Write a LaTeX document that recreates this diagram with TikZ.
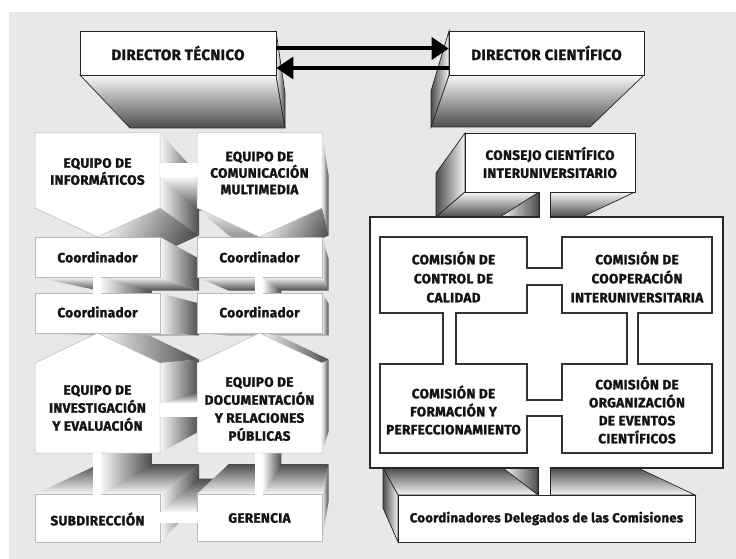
\documentclass[tikz,border=0pt]{standalone}
\usepackage{fontspec}
\setmainfont{Fira Sans}[BoldFeatures={FakeBold=1.6,LetterSpace=2.5}]
\usetikzlibrary{calc,arrows.meta}
\definecolor{bgc}{gray}{0.91}
\definecolor{frc}{gray}{0.97}
\definecolor{bkc}{gray}{0.30}
\definecolor{ink}{gray}{0.08}
\newcommand\xface[3]{\shade[#3] (#1) -- (#2) -- ($(#2)!0.2!(VP)$) -- ($(#1)!0.2!(VP)$) -- cycle;}
\newcommand\tfont{\bfseries\fontsize{13.5}{18}\selectfont}
\newcommand\dfont{\bfseries\fontsize{15}{18}\selectfont}
\begin{document}
\begin{tikzpicture}[x=1pt,y=-1pt,
  rface/.style={left color=frc,right color=bkc},
  lface/.style={left color=bkc,right color=frc},
  bface/.style={top color=frc,bottom color=bkc},
  tface/.style={top color=bkc,bottom color=frc},
  dface/.style={top color=frc,bottom color=bkc,shading angle=60},
  edge3d/.style={draw=black!85,line width=0.7pt},
  front/.style={fill=white,draw=gray!55,line width=0.5pt},
  txt/.style={font=\tfont,text=ink,align=center,inner sep=0pt},
  dbox/.style={draw=black!85,fill=white,line width=0.7pt,font=\dfont,text=ink,align=center,inner sep=0pt},
  cbox/.style={draw=black!85,fill=white,line width=0.7pt,font=\tfont,text=ink,align=center,inner sep=0pt},
  arr/.style={-{Triangle[length=17pt,width=22pt]}}]
\useasboundingbox (0,0) rectangle (736,559);
\fill[white] (0,0) rectangle (736,559);
\fill[bgc] (9,12) rectangle (736,559);
\coordinate (VP) at (355,345);

% ---------- left section: side faces ----------
\xface{160,133}{160,208}{rface}
\xface{160,208}{97.5,237}{dface}
\xface{322,133}{322,208}{rface}
\xface{322,208}{259.5,237}{dface}
\xface{197,208}{259.5,237}{bface}
\xface{160,177}{197,177}{bface}
% coordinador row 1
\xface{35,277}{160,277}{bface}
\xface{160,237}{160,277}{rface}
\xface{197,277}{322,277}{bface}
\xface{322,237}{322,277}{rface}
\xface{101,277}{101,293}{rface}
\xface{263,277}{263,293}{rface}
% coordinador row 2
\xface{35,333}{160,333}{bface}
\xface{160,293}{160,333}{rface}
\xface{197,333}{322,333}{bface}
\xface{322,293}{322,333}{rface}
% houses
\xface{97.5,333}{160,363}{rface}
\xface{160,363}{160,453}{rface}
\xface{160,403}{197,403}{tface}
\xface{259.5,333}{322,363}{rface}
\xface{322,363}{322,453}{rface}
% bottom row
\xface{35,494}{160,494}{tface}
\xface{160,494}{160,542}{rface}
\xface{160,512}{197,512}{tface}
\xface{197,494}{322,494}{tface}
\xface{322,494}{322,541}{rface}
\xface{101,453}{101,494}{rface}
\xface{263,453}{263,494}{rface}

% ---------- left section: front faces ----------
\path[front] (35,133) -- (160,133) -- (160,208) -- (97.5,237) -- (35,208) -- cycle;
\path[front] (197,133) -- (322,133) -- (322,208) -- (259.5,237) -- (197,208) -- cycle;
\path[front] (35,237) rectangle (160,277);
\path[front] (197,237) rectangle (322,277);
\path[front] (35,293) rectangle (160,333);
\path[front] (197,293) rectangle (322,333);
\path[front] (35,363) -- (97.5,333) -- (160,363) -- (160,453) -- (35,453) -- cycle;
\path[front] (197,363) -- (259.5,333) -- (322,363) -- (322,453) -- (197,453) -- cycle;
\path[front] (35,494) rectangle (160,542);
\path[front] (197,494) rectangle (322,541);
% white connectors
\fill[white] (159.5,163) rectangle (197.5,177);
\fill[white] (93,276.5) rectangle (101,293.5);
\fill[white] (255,276.5) rectangle (263,293.5);
\fill[white] (159.5,403) rectangle (197.5,417);
\fill[white] (93,452.5) rectangle (101,494.5);
\fill[white] (255,452.5) rectangle (263,494.5);
\fill[white] (159.5,512) rectangle (197.5,523);

% ---------- left section: texts ----------
\node[txt,font=\bfseries\fontsize{13.5}{17}\selectfont] (EI) at (97.5,171.5) {EQUIPO DE\\INFORMÁTICOS};
\node[txt,font=\bfseries\fontsize{13.5}{16.5}\selectfont] (ECM) at (259.5,173) {EQUIPO DE\\COMUNICACIÓN\\MULTIMEDIA};
\node[txt] (C1) at (97.5,257) {Coordinador};
\node[txt] (C2) at (259.5,257) {Coordinador};
\node[txt] (C3) at (97.5,312) {Coordinador};
\node[txt] (C4) at (259.5,312) {Coordinador};
\node[txt] (EIE) at (97.5,408) {EQUIPO DE\\INVESTIGACIÓN\\Y EVALUACIÓN};
\node[txt] (EDR) at (259.5,409) {EQUIPO DE\\DOCUMENTACIÓN\\Y RELACIONES\\PÚBLICAS};
\node[txt] (SUB) at (97.5,519) {SUBDIRECCIÓN};
\node[txt] (GER) at (259.5,518) {GERENCIA};

% ---------- directors ----------
\shadedraw[bface,edge3d] (80,75) -- (276,75) -- (285,128) -- (130,128) -- cycle;
\shadedraw[rface,edge3d] (276,31) -- (285,93) -- (285,128) -- (276,75) -- cycle;
\node[dbox,minimum width=196pt,minimum height=44pt] (DT) at (178,53) {DIRECTOR TÉCNICO};
\shadedraw[bface,edge3d] (449,75) -- (644,75) -- (590,127) -- (431,127) -- cycle;
\shadedraw[lface,edge3d] (449,31) -- (449,75) -- (431,127) -- (431,91) -- cycle;
\node[dbox,minimum width=195pt,minimum height=44pt] (DC) at (546.5,53) {DIRECTOR CIENTÍFICO};
\draw[arr,line width=4pt] ([yshift=4.5pt]DT.east) -- ([yshift=4.5pt]DC.west);
\draw[arr,line width=3.5pt] ([yshift=-15pt]DC.west) -- ([yshift=-15pt]DT.east);

% ---------- consejo ----------
\shadedraw[lface,edge3d] (465,133) -- (465,192) -- (436,217) -- (436,173) -- cycle;
\shadedraw[bface,edge3d] (465,192) -- (635,192) -- (582,217) -- (436,217) -- cycle;
\shadedraw[rface,edge3d] (539,192) -- (539,217) -- (500,217) -- cycle;
\node[cbox,minimum width=170pt,minimum height=59pt] (CCI) at (550,162.5) {CONSEJO CIENTÍFICO\\INTERUNIVERSITARIO};

% ---------- coordinadores delegados ----------
\shadedraw[tface,edge3d] (383,468) -- (638,468) -- (695,495) -- (398,495) -- cycle;
\shadedraw[lface,edge3d] (383,468) -- (398,495) -- (398,542) -- (383,508) -- cycle;
\shadedraw[rface,edge3d] (503,468) -- (538,468) -- (538,495) -- cycle;
\node[cbox,minimum width=297pt,minimum height=47pt,font=\bfseries\fontsize{13}{16}\selectfont] (CDC) at (546.5,518.5) {Coordinadores Delegados de las Comisiones};

% ---------- big box ----------
\node[draw=black!85,fill=white,line width=1.1pt,minimum width=353pt,minimum height=251pt,inner sep=0pt] (BIG) at (546.5,342.5) {};
\fill[white] (539.5,190) rectangle (549.5,219);
\draw[edge3d] (539,192) -- (539,217.5) (550,192) -- (550,217.5);
\fill[white] (538.5,466) rectangle (549.5,494.5);
\draw[edge3d] (538,467.5) -- (538,495) (550,467.5) -- (550,495);

% commission outline
\draw[draw=black!80,line width=1.1pt] (380,237) -- (527,237) -- (527,268) -- (562,268) -- (562,237) -- (712,237) -- (712,313) -- (638,313) -- (638,364) -- (712,364) -- (712,453) -- (562,453) -- (562,416) -- (527,416) -- (527,453) -- (380,453) -- (380,364) -- (443,364) -- (443,313) -- (380,313) -- cycle;
\draw[draw=black!80,line width=1.1pt] (456,313) -- (527,313) -- (527,285) -- (562,285) -- (562,313) -- (627,313) -- (627,364) -- (562,364) -- (562,400) -- (527,400) -- (527,364) -- (456,364) -- cycle;
\node[txt,font=\bfseries\fontsize{13.5}{19}\selectfont] (CCC) at (453.5,277) {COMISIÓN DE\\CONTROL DE\\CALIDAD};
\node[txt,font=\bfseries\fontsize{13.5}{19}\selectfont] (CCU) at (637,277) {COMISIÓN DE\\COOPERACIÓN\\INTERUNIVERSITARIA};
\node[txt] (CFP) at (453.5,410) {COMISIÓN DE\\FORMACIÓN Y\\PERFECCIONAMIENTO};
\node[txt] (COE) at (637,410) {COMISIÓN DE\\ORGANIZACIÓN\\DE EVENTOS\\CIENTÍFICOS};
\end{tikzpicture}
\end{document}
